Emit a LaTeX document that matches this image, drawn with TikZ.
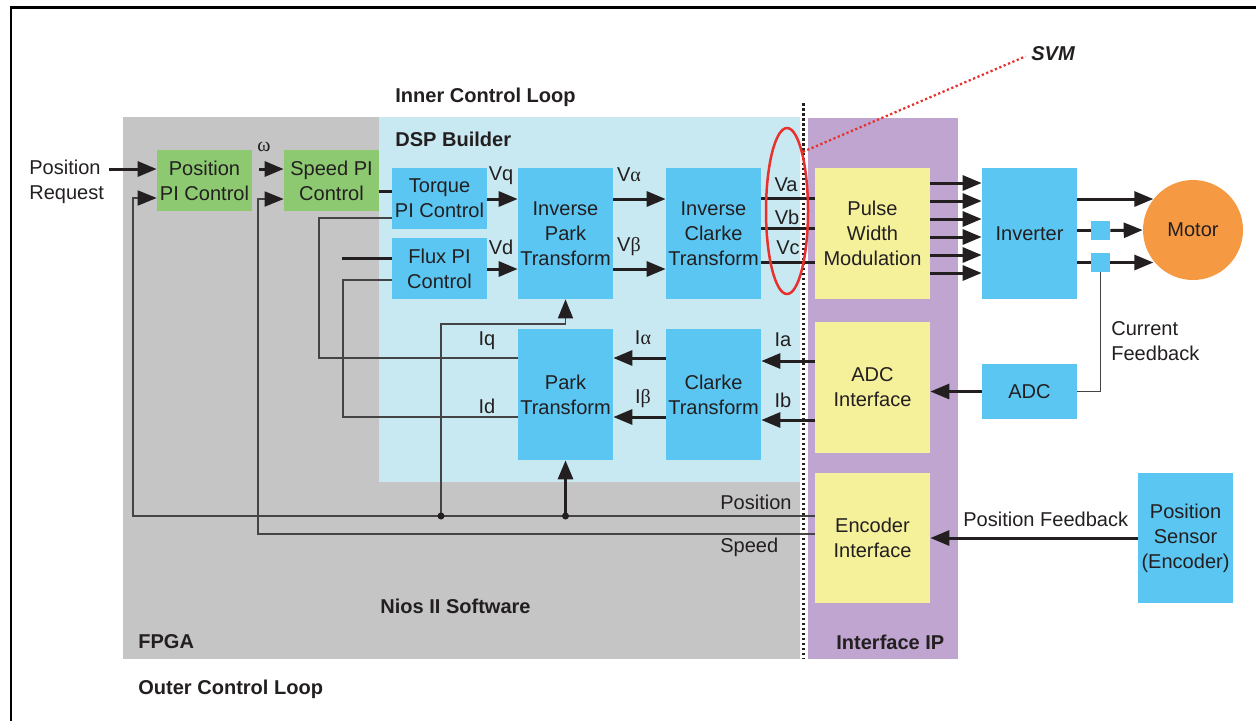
\documentclass[tikz,border=0pt]{standalone}
\usepackage{fontspec}
\setmainfont{Liberation Sans}
\newfontfamily\grk{Liberation Serif}
\usetikzlibrary{arrows.meta,calc,shapes.geometric}
\definecolor{ink}{HTML}{231F20}
\definecolor{fpgagray}{HTML}{C4C5C4}
\definecolor{dspblue}{HTML}{C8E9F1}
\definecolor{blkblue}{HTML}{5BC6F2}
\definecolor{pigreen}{HTML}{8DC971}
\definecolor{ipyellow}{HTML}{F5F09A}
\definecolor{ippurple}{HTML}{BFA5CF}
\definecolor{motororange}{HTML}{F59A42}
\definecolor{svmred}{HTML}{E8302D}
\definecolor{wire}{HTML}{444444}

\begin{document}
\begin{tikzpicture}[x=0.02cm,y=-0.02cm,
  every node/.style={font=\fontsize{11.4}{14.2}\selectfont, text=ink, inner sep=0pt},
  blk/.style={fill=blkblue, align=center, minimum width=1.9cm},
  greenblk/.style={fill=pigreen, align=center, minimum width=1.9cm, minimum height=1.22cm},
  ipblk/.style={fill=ipyellow, align=center, minimum width=2.3cm},
  hdr/.style={font=\fontsize{11.4}{14.2}\selectfont\bfseries, anchor=west},
  headed/.style={-{Triangle[length=0.38cm,width=0.3cm,color=ink]}},
  bus/.style={draw=ink, line width=0.06cm},
  fb/.style={draw=wire, line width=0.035cm},
]
\useasboundingbox (0,0) rectangle (1256,721);

% outer frame (top and left edges)
\draw[black, line width=0.06cm] (11,721) -- (11,7) -- (1256,7);

% regions
\fill[fpgagray] (123,117) rectangle (800,659);
\fill[dspblue] (379,117) rectangle (800,482);
\fill[ippurple] (808,118) rectangle (958,659);
\draw[ink, line width=0.05cm, dash pattern=on 0.05cm off 0.05cm] (803.5,103) -- (803.5,659);

% region titles
\node[hdr] at (395,97) {Inner Control Loop};
\node[hdr] at (395,139) {DSP Builder};
\node[hdr] at (380,606) {Nios II Software};
\node[hdr] at (138,642) {FPGA};
\node[hdr] at (836,642) {Interface IP};
\node[hdr] at (138,689) {Outer Control Loop};

% blocks
\node[greenblk] (pospi) at (204.5,180.5) {Position\\PI Control};
\node[greenblk] (spdpi) at (331.5,180.5) {Speed PI\\Control};
\node[blk, minimum height=1.22cm] (tpi) at (439.5,198.5) {Torque\\PI Control};
\node[blk, minimum height=1.22cm] (fpi) at (439.5,268.5) {Flux PI\\Control};
\node[blk, minimum height=2.62cm] (ipark) at (565.5,233.5) {Inverse\\Park\\Transform};
\node[blk, minimum height=2.62cm] (iclarke) at (713.5,233.5) {Inverse\\Clarke\\Transform};
\node[ipblk, minimum height=2.62cm] (pwm) at (872.5,233.5) {Pulse\\Width\\Modulation};
\node[blk, minimum height=2.62cm] (inv) at (1029.5,233.5) {Inverter};
\node[circle, fill=motororange, minimum size=2cm] (motor) at (1193,230) {Motor};
\node[fill=blkblue, minimum size=0.38cm] (sqa) at (1100.5,230.5) {};
\node[fill=blkblue, minimum size=0.38cm] (sqb) at (1100.5,262.5) {};
\node[blk, minimum height=2.62cm] (park) at (565.5,394.5) {Park\\Transform};
\node[blk, minimum height=2.62cm] (clarke) at (713.5,394.5) {Clarke\\Transform};
\node[ipblk, minimum height=2.62cm] (adci) at (872.5,387.5) {ADC\\Interface};
\node[blk, minimum height=1.1cm] (adc) at (1029.5,391.5) {ADC};
\node[ipblk, minimum height=2.6cm] (enci) at (872.5,538) {Encoder\\Interface};
\node[blk, minimum height=2.6cm] (sensor) at (1185.5,538) {Position\\Sensor\\(Encoder)};

% command input
\node[anchor=west, align=left] (preq) at (29,182) {Position\\Request};
\coordinate (preqend) at (109,169);
\draw[bus, headed] (preqend) -- (pospi.west |- preqend);
\draw[bus, headed, shorten <=0.14cm] (pospi.east |- 0,169) -- (spdpi.west |- 0,169);
\node (omega) at (264,147) {\grk ω};
\draw[bus] (spdpi.east |- 0,191) -- (tpi.west |- 0,191);

% outer loop feedback (position and speed)
\coordinate (jq) at (441,516);
\coordinate (jp) at (565.5,516);
\draw[fb, headed] (enci.west |- 0,516) -| (133,198) -- (pospi.west |- 0,198);
\draw[fb, headed] (enci.west |- 0,534) -| (258,199) -- (spdpi.west |- 0,199);
\node[anchor=west] at (720,502) {Position};
\node[anchor=west] at (720,547) {Speed};
\draw[fb, headed] (jq) |- (ipark.south |- 0,324) -- (ipark.south);
\draw[bus, headed] (jp) -- (park.south);
\fill[ink] (jq) circle (0.07cm);
\fill[ink] (jp) circle (0.07cm);

% current loop
\draw[fb] (tpi.west |- 0,218) -| (319,358) -- (park.west |- 0,358);
\coordinate (fluxref) at (342,258);
\draw[bus] (fluxref) -- (fpi.west |- fluxref);
\draw[fb] (fpi.west |- 0,280) -| (343,417) -- (park.west |- 0,417);
\node at (487,341) {Iq};
\node at (487,406) {Id};

\draw[bus, headed] (tpi.east |- 0,199) -- (ipark.west |- 0,199);
\draw[bus, headed] (fpi.east |- 0,269) -- (ipark.west |- 0,269);
\draw[bus, headed] (ipark.east |- 0,199) -- (iclarke.west |- 0,199);
\draw[bus, headed] (ipark.east |- 0,269) -- (iclarke.west |- 0,269);
\node at (501,176) {Vq};
\node at (501,247) {Vd};
\node at (629,175) {V{\grk α}};
\node at (629,247) {V{\grk β}};

\foreach \yy in {198,228,262}
  \draw[bus] (iclarke.east |- 0,\yy) -- (pwm.west |- 0,\yy);
\node at (786,185) {Va};
\node at (787,217) {Vb};
\node at (788,248) {Vc};

% SVM marker
\node[ellipse, draw=svmred, line width=0.05cm, minimum width=0.84cm, minimum height=3.32cm] (svmring) at (787,211) {};
\node[font=\fontsize{11.4}{14.2}\selectfont\bfseries\itshape, anchor=west] (svm) at (1031,54) {SVM};
\draw[svmred, line width=0.045cm, dash pattern=on 0.045cm off 0.05cm, shorten >=0.12cm] (svmring.75) -- (svm.west);

% power stage
\foreach \yy in {183,201,219,237,255,273}
  \draw[bus, headed] (pwm.east |- 0,\yy) -- (inv.west |- 0,\yy);
\draw[bus, headed] (inv.east |- 0,199) -- (motor.142 |- 0,199);
\draw[bus] (inv.east |- sqa) -- (sqa.west);
\draw[bus, headed] (sqa.east) -- (motor.west);
\draw[bus] (inv.east |- sqb) -- (sqb.west);
\draw[bus, headed] (sqb.east) -- (motor.218 |- sqb);

% current feedback
\draw[fb] (sqb.south) |- (adc.east);
\node[anchor=west, align=left] at (1111,341.5) {Current\\Feedback};
\draw[bus, headed] (adc.west) -- (adci.east |- adc.west);
\draw[bus, headed] (adci.west |- 0,361) -- (clarke.east |- 0,361);
\draw[bus, headed] (adci.west |- 0,420) -- (clarke.east |- 0,420);
\node at (783,340) {Ia};
\node at (783,400) {Ib};
\draw[bus, headed] (clarke.west |- 0,358) -- (park.east |- 0,358);
\draw[bus, headed] (clarke.west |- 0,417) -- (park.east |- 0,417);
\node at (643,338) {I{\grk α}};
\node at (643,399) {I{\grk β}};

% position feedback
\draw[bus, headed] (sensor.west) -- (enci.east);
\node[anchor=west] at (963,519) {Position Feedback};
\end{tikzpicture}
\end{document}
